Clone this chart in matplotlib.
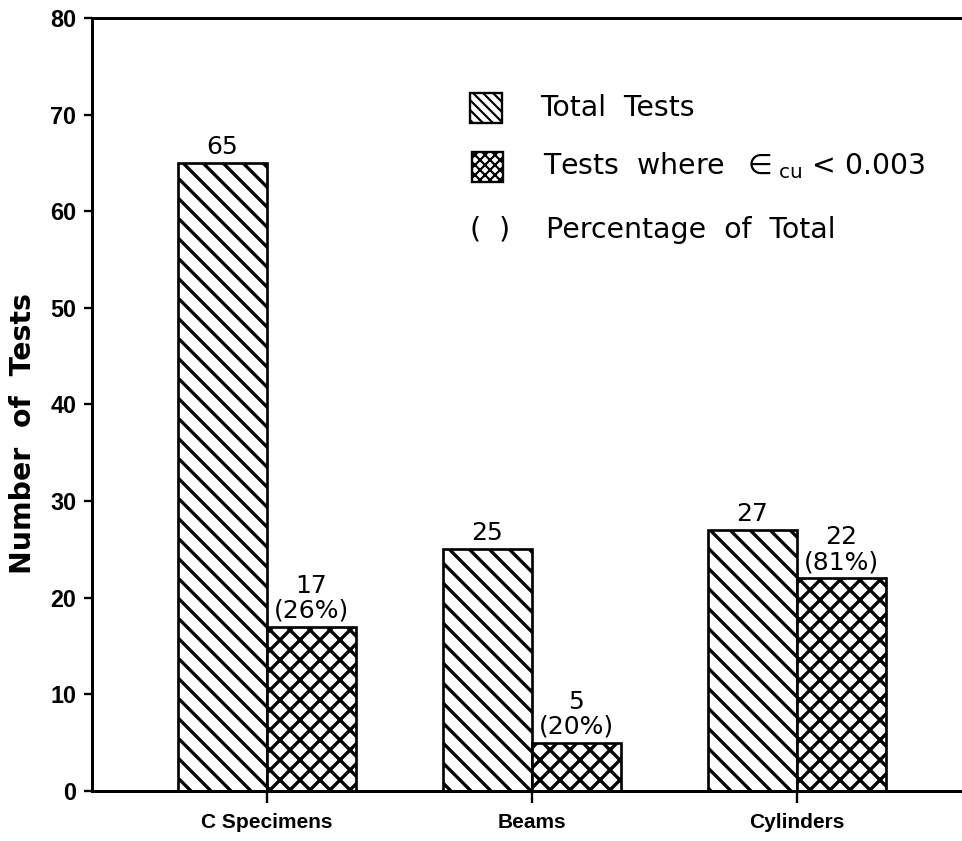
import numpy as np
import matplotlib
matplotlib.use("Agg")
from matplotlib import pyplot as plt
from matplotlib.patches import Rectangle

# data
categories = ['C Specimens', 'Beams', 'Cylinders']
total_tests = [65, 25, 27]
low_strain_tests = [17, 5, 22]          # tests where eps_cu < 0.003
percent_of_total = [26, 20, 81]
y_ticks = [0, 10, 20, 30, 40, 50, 60, 70, 80]

W, H, DPI = 962, 841, 120

plt.rcParams['font.family'] = ['DejaVu Sans']
plt.rcParams['hatch.linewidth'] = 2.0
plt.rcParams['mathtext.fontset'] = 'dejavusans'


def px(x, y):
    # pixel position (from top-left) -> figure fraction
    return x / W, 1 - y / H


fig = plt.figure(figsize=(W / DPI, H / DPI), dpi=DPI)
ax = fig.add_axes([92 / W, 1 - 791 / H, 1 - 92 / W, (791 - 18) / H])

x = np.arange(len(categories))
w = 0.336
bars_total = ax.bar(x - w / 2, total_tests, w, facecolor='white',
                    edgecolor='black', linewidth=1.6, hatch='\\\\')
bars_low = ax.bar(x + w / 2, low_strain_tests, w, facecolor='white',
                  edgecolor='black', linewidth=1.6, hatch='xx')

for b, v in zip(bars_total, total_tests):
    ax.annotate(str(v), (b.get_x() + b.get_width() / 2, b.get_height()),
                xytext=(0, 2.5), textcoords='offset points',
                ha='center', va='bottom', fontsize=15)
for b, v, p in zip(bars_low, low_strain_tests, percent_of_total):
    ax.annotate('%d\n(%d%%)' % (v, p), (b.get_x() + b.get_width() / 2, b.get_height()),
                xytext=(0, 2.5), textcoords='offset points',
                ha='center', va='bottom', fontsize=15, linespacing=1.05)

ax.set_xlim(-0.66, 2.623)
ax.set_ylim(0, 80)
ax.set_yticks(y_ticks)
ax.set_xticks(x)
ax.set_xticklabels(categories)
for lab in ax.get_xticklabels():
    lab.set_fontfamily('Liberation Sans')
    lab.set_fontweight('bold')
    lab.set_fontsize(12.5)
for lab in ax.get_yticklabels():
    lab.set_fontfamily('Liberation Sans')
    lab.set_fontweight('bold')
    lab.set_fontsize(14)
ax.tick_params(axis='y', direction='out', length=5, width=1.4, pad=4.5)
ax.tick_params(axis='x', direction='out', length=7, width=1.4, pad=6)

ax.spines['right'].set_visible(False)
for s in ['left', 'bottom', 'top']:
    ax.spines[s].set_linewidth(1.8)

ax.set_ylabel('Number  of  Tests', fontsize=17, fontweight='bold', va='center')
ax.yaxis.set_label_coords(-0.079, 0.463)

# hand-drawn legend
plt.rcParams['hatch.linewidth'] = 1.3
bx, by = px(470, 123)
fig.add_artist(Rectangle((bx, by), 32 / W, 30 / H, transform=fig.transFigure,
                         facecolor='white', edgecolor='black', linewidth=1.4,
                         hatch='\\\\\\\\'))
bx, by = px(472, 182)
fig.add_artist(Rectangle((bx, by), 31 / W, 30 / H, transform=fig.transFigure,
                         facecolor='white', edgecolor='black', linewidth=1.4, hatch='xxxx'))
fig.text(*px(540, 108), 'Total  Tests', fontsize=17, va='center')
fig.text(*px(543, 166), r'Tests  where  $\in_{\rm cu}$ < 0.003', fontsize=17, va='center')
fig.text(*px(470, 230), '(  )    Percentage  of  Total', fontsize=17, va='center')

fig.savefig('out.png', dpi=DPI)
